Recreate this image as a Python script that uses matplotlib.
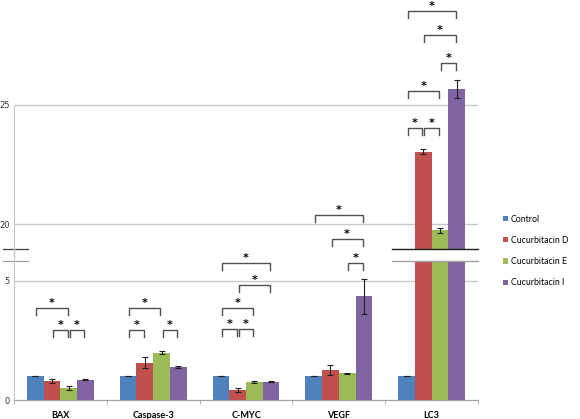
import numpy as np
import matplotlib.pyplot as plt
from matplotlib.lines import Line2D

categories = ['BAX', 'Caspase-3', 'C-MYC', 'VEGF', 'LC3']
series = ['Control', 'Cucurbitacin D', 'Cucurbitacin E', 'Cucurbitacin I']
colors = ['#4F81BD', '#C0504D', '#9BBB59', '#8064A2']

control = [1.00, 1.00, 1.00, 1.00, 1.00]
cuc_d = [0.81, 1.57, 0.42, 1.25, 23.04]
cuc_e = [0.50, 1.99, 0.77, 1.12, 19.73]
cuc_i = [0.85, 1.39, 0.77, 4.36, 25.66]

err_control = [0.01, 0.01, 0.01, 0.01, 0.01]
err_d = [0.08, 0.22, 0.08, 0.22, 0.10]
err_e = [0.10, 0.07, 0.04, 0.02, 0.10]
err_i = [0.03, 0.03, 0.03, 0.74, 0.38]

values = [control, cuc_d, cuc_e, cuc_i]
errors = [err_control, err_d, err_e, err_i]

# significance brackets: (category, series a, series b, level)
brackets = [
    (0, 0, 2, 3.87), (0, 1, 2, 2.94), (0, 2, 3, 2.94),
    (1, 0, 2, 3.87), (1, 0, 1, 2.94), (1, 2, 3, 2.94),
    (2, 0, 3, 5.77), (2, 1, 3, 4.85), (2, 0, 2, 3.87), (2, 0, 1, 2.97), (2, 1, 2, 2.97),
    (3, 0, 3, 20.39), (3, 1, 3, 19.38), (3, 2, 3, 5.77),
    (4, 0, 3, 28.95), (4, 1, 3, 27.93), (4, 2, 3, 26.75), (4, 0, 2, 25.6),
    (4, 0, 1, 24.02), (4, 1, 2, 24.02),
]

fig = plt.figure(figsize=(5.8, 4.19), dpi=100)
L, W = 14 / 580, 464 / 580
ax_lo = fig.add_axes([L, 19 / 419, W, 139 / 419])
ax_up = fig.add_axes([L, 170 / 419, W, 249 / 419])

x = np.arange(len(categories))
bw = 0.18
grid_c = '#C8C8C8'

handles = []
for ax in (ax_lo, ax_up):
    for i in range(4):
        b = ax.bar(x + (i - 1.5) * bw, values[i], bw, color=colors[i],
                   yerr=errors[i], ecolor='#202020',
                   error_kw=dict(lw=0.8, capsize=2, capthick=0.8), zorder=3)
        if ax is ax_lo:
            handles.append(b)
    ax.set_xlim(-0.5, len(categories) - 0.5)
    ax.set_facecolor('none')
    for s in ('top', 'right'):
        ax.spines[s].set_visible(False)
    ax.spines['left'].set_color(grid_c)
    ax.tick_params(axis='y', length=0, pad=3, labelsize=6, labelcolor='#333333')

ax_lo.set_ylim(0, 5.84)
ax_lo.set_yticks([0, 5])
ax_lo.grid(axis='y', color=grid_c, lw=1)
ax_lo.spines['bottom'].set_color('#A0A0A0')
ax_lo.set_xticks(x)
ax_lo.set_xticklabels(categories, fontweight='bold', fontsize=6.5, family='Lato')
ax_lo.set_xticks(np.arange(-0.5, len(categories) + 0.5), minor=True)
ax_lo.tick_params(axis='x', which='major', length=0, pad=8)
ax_lo.tick_params(axis='x', which='minor', length=3, color='#A0A0A0', direction='out')

ax_up.set_ylim(18.95, 29.41)
ax_up.set_yticks([20, 25])
ax_up.grid(axis='y', color=grid_c, lw=1)
ax_up.spines['bottom'].set_visible(False)
ax_up.spines['left'].set_bounds(18.95, 25)
ax_up.set_xticks([])

# break marks
fig.add_artist(Line2D([L, L], [158 / 419, 170 / 419], color=grid_c, lw=1))
ax_up.plot([-0.024, 0.03], [0, 0], transform=ax_up.transAxes, color='#404040',
           lw=0.9, clip_on=False)
ax_lo.plot([-0.024, 0.03], [1, 1], transform=ax_lo.transAxes, color='#A0A0A0',
           lw=0.9, clip_on=False)
xb = [x[-1] - 0.43, x[-1] + 0.5]
ax_up.plot(xb, [0, 0], transform=ax_up.get_xaxis_transform(), color='#202020',
           lw=1, clip_on=False, zorder=5)
ax_lo.plot(xb, [1, 1], transform=ax_lo.get_xaxis_transform(), color='#A0A0A0',
           lw=1, clip_on=False, zorder=5)

# significance brackets
leg = 0.3
for c, a, b, y in brackets:
    ax = ax_up if y > 10 else ax_lo
    x0 = x[c] + (a - 1.5) * bw + 0.012
    x1 = x[c] + (b - 1.5) * bw - 0.012
    ax.plot([x0, x0, x1, x1], [y - leg, y, y, y - leg], color='#505050',
            lw=1, clip_on=False, zorder=4)
    ax.annotate('*', ((x0 + x1) / 2, y), xytext=(0, 3.5), textcoords='offset points',
                ha='center', va='center', fontsize=8, fontweight='bold',
                annotation_clip=False)

fig.legend(handles, series, loc='center left', bbox_to_anchor=(503 / 580, 1 - 251 / 419),
           frameon=False, prop={'family': 'Lato', 'size': 6.3},
           handlelength=0.55, handleheight=0.55, handletextpad=0.35, labelspacing=1.4,
           borderpad=0, borderaxespad=0)

fig.savefig('out.png', dpi=100)
